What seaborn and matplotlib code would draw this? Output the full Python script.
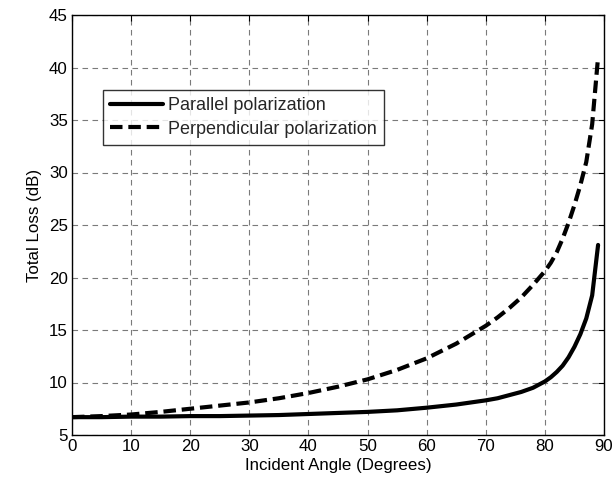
import matplotlib
matplotlib.use("Agg")
import matplotlib.pyplot as plt
import seaborn as sns
import pandas as pd

# Incident angle samples (degrees)
angles = [0, 5, 10, 15, 20, 25, 30, 35, 40, 45, 50, 55, 60, 65, 70,
          72, 74, 76, 78, 80, 81, 82, 83, 84, 85, 86, 87, 88, 89]

# Total loss (dB) for each polarization
parallel_loss = [6.7, 6.7, 6.75, 6.75, 6.8, 6.8, 6.85, 6.9, 7.0, 7.1, 7.2, 7.35,
                 7.6, 7.9, 8.3, 8.5, 8.8, 9.1, 9.5, 10.1, 10.5, 11.0, 11.6, 12.4,
                 13.4, 14.6, 16.1, 18.3, 23.1]
perpendicular_loss = [6.7, 6.8, 6.95, 7.2, 7.5, 7.8, 8.1, 8.5, 9.0, 9.6, 10.3, 11.2,
                      12.3, 13.7, 15.4, 16.2, 17.1, 18.1, 19.3, 20.6, 21.4, 22.4,
                      23.7, 25.2, 26.9, 28.8, 31.0, 34.6, 41.0]

series_names = ["Parallel polarization", "Perpendicular polarization"]

x_ticks = list(range(0, 91, 10))
y_ticks = list(range(5, 46, 5))

sns.set_theme(style="white")
plt.rcParams["font.family"] = ["Liberation Sans", "DejaVu Sans"]

df = pd.DataFrame({
    "angle": angles * 2,
    "loss": parallel_loss + perpendicular_loss,
    "series": [series_names[0]] * len(angles) + [series_names[1]] * len(angles),
})

FS = 12.2
LEG_FS = 13.0

fig = plt.figure(figsize=(6.14, 4.8), dpi=100)
ax = fig.add_axes([72 / 614, 45 / 480, 532 / 614, 420 / 480])

sns.lineplot(data=df, x="angle", y="loss", hue="series", style="series",
             palette=["black", "black"],
             dashes={series_names[0]: "", series_names[1]: (3.0, 1.4)},
             linewidth=3.0, ax=ax, legend=True)

ax.set_xlim(0, 90)
ax.set_ylim(5, 45)
ax.set_xticks(x_ticks)
ax.set_yticks(y_ticks)
ax.set_xlabel("Incident Angle (Degrees)", fontsize=FS, color="black", labelpad=3)
ax.set_ylabel("Total Loss (dB)", fontsize=FS, color="black", labelpad=5)
ax.tick_params(axis="both", which="both", direction="in", length=4, width=0.8,
               top=True, right=True, labelsize=FS, colors="black", pad=3)

ax.grid(True, color="#7a7a7a", linestyle=(0, (5, 4)), linewidth=0.8)
ax.set_axisbelow(True)
for spine in ax.spines.values():
    spine.set_color("black")
    spine.set_linewidth(1.0)

handles, labels = ax.get_legend_handles_labels()
leg = ax.legend(handles, labels, loc="upper left",
                bbox_to_anchor=((103 - 72) / 532, (435 - 90) / 420),
                borderaxespad=0, frameon=True, fancybox=False,
                fontsize=LEG_FS, handlelength=2.9, handletextpad=0.3,
                borderpad=0.4, labelspacing=0.35)
leg.get_frame().set_edgecolor("black")
leg.get_frame().set_linewidth(1.0)
for line in leg.get_lines():
    line.set_linewidth(3.0)

fig.savefig("out.png", dpi=100)
